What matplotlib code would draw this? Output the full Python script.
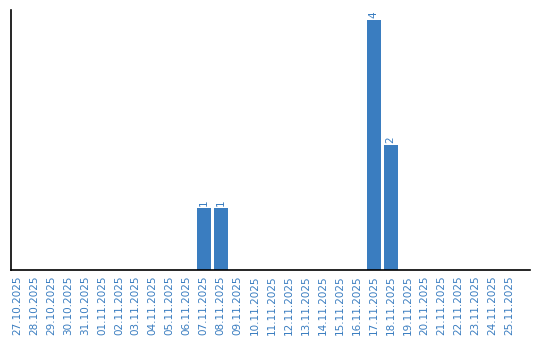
import matplotlib
matplotlib.use("Agg")
import matplotlib.pyplot as plt

dates = ["27.10.2025", "28.10.2025", "29.10.2025", "30.10.2025", "31.10.2025",
         "01.11.2025", "02.11.2025", "03.11.2025", "04.11.2025", "05.11.2025",
         "06.11.2025", "07.11.2025", "08.11.2025", "09.11.2025", "10.11.2025",
         "11.11.2025", "12.11.2025", "13.11.2025", "14.11.2025", "15.11.2025",
         "16.11.2025", "17.11.2025", "18.11.2025", "19.11.2025", "20.11.2025",
         "21.11.2025", "22.11.2025", "23.11.2025", "24.11.2025", "25.11.2025"]
counts = [0, 0, 0, 0, 0, 0, 0, 0, 0, 0,
          0, 1, 1, 0, 0, 0, 0, 0, 0, 0,
          0, 4, 2, 0, 0, 0, 0, 0, 0, 0]

blue = "#3a7dc0"

fig = plt.figure(figsize=(5.4, 3.4), dpi=100)
ax = fig.add_axes([11 / 540, 70 / 340, 519 / 540, 260 / 340])

x = range(len(dates))
bars = ax.bar(x, counts, width=0.82, color=blue)
for xi, c in zip(x, counts):
    if c > 0:
        ax.text(xi, c + 0.03, str(c), rotation=90, ha="center", va="bottom",
                fontsize=7.5, color=blue)

ax.set_xlim(-0.35, 30.2)
ax.set_ylim(0, 4.16)
ax.set_xticks(list(x))
ax.set_xticklabels(dates, rotation=90, fontsize=7.5, color=blue)
ax.tick_params(axis="x", length=0, pad=4)
ax.set_yticks([])
for s in ["top", "right"]:
    ax.spines[s].set_visible(False)
ax.spines["left"].set_linewidth(1.2)
ax.spines["bottom"].set_linewidth(1.2)

fig.savefig("out.png", dpi=100)
